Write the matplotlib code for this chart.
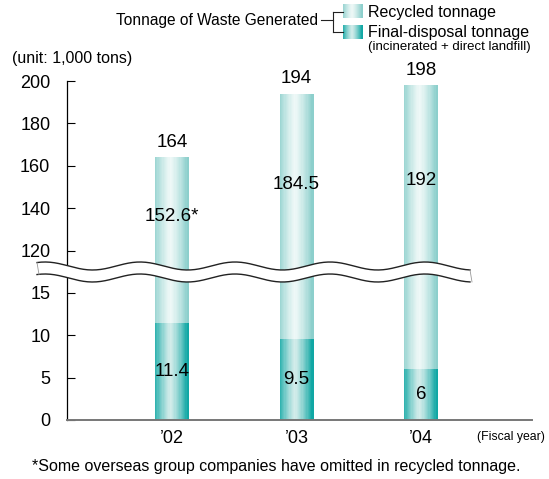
import numpy as np
import matplotlib
matplotlib.use("Agg")
import matplotlib.pyplot as plt
from matplotlib.patches import Polygon
from matplotlib.lines import Line2D
from matplotlib.colors import to_rgb

plt.rcParams['font.family'] = ['Liberation Sans', 'DejaVu Sans']

# --- data ---
years = ["\u201902", "\u201903", "\u201904"]
totals = [164, 194, 198]
recycled = [152.6, 184.5, 192]
final_disposal = [11.4, 9.5, 6]
recycled_labels = ["152.6*", "184.5", "192"]
final_labels = ["11.4", "9.5", "6"]
y_ticks = [0, 5, 10, 15, 120, 140, 160, 180, 200]

W, H = 549, 479
REC_EDGE, REC_MID = '#8ccfcc', '#eef8f7'
FIN_EDGE, FIN_MID = '#10a7a4', '#d2ecea'


# broken axis: 0-17 on the bottom, 118-200 on top
def fwd(v):
    v = np.asarray(v, dtype=float)
    return np.where(v <= 17, v / 5,
                    np.where(v >= 118, 4 + (v - 120) / 20, 3.4 + (v - 17) * 0.5 / 101))


def inv(p):
    p = np.asarray(p, dtype=float)
    return np.where(p <= 3.4, p * 5,
                    np.where(p >= 3.9, 120 + (p - 4) * 20, 17 + (p - 3.4) * 101 / 0.5))


def px(x, y):
    return x / W, 1 - y / H


def shade(edge, mid, t):
    e, m = np.array(to_rgb(edge)), np.array(to_rgb(mid))
    return tuple(m + (e - m) * t)


def gradient_bar(ax, x, height, bottom, width, edge, mid, n=28):
    step = width / n
    for i in range(n):
        off = (i + 0.5) / n - 0.5
        t = min(1.0, abs(off + 0.05) / 0.5) ** 1.3
        ax.bar(x - width / 2 + i * step, height, width=step * 1.08, bottom=bottom,
               align='edge', color=shade(edge, mid, t), linewidth=0, zorder=2)


fig = plt.figure(figsize=(W / 100, H / 100), dpi=100)
ax = fig.add_axes([67 / W, 1 - 420 / H, (532 - 67) / W, (420 - 81) / H])
ax.set_yscale('function', functions=(fwd, inv))

xs = np.arange(len(years))
bw = 0.273
for i in xs:
    gradient_bar(ax, i, final_disposal[i], 0, bw, FIN_EDGE, FIN_MID)
    gradient_bar(ax, i, recycled[i], final_disposal[i], bw, REC_EDGE, REC_MID)
    ax.text(i, totals[i] + 3, str(totals[i]), ha='center', va='bottom', fontsize=13.5)
    ax.text(i, (108 + totals[i]) / 2, recycled_labels[i], ha='center', va='center', fontsize=13.5)
    ax.text(i, final_disposal[i] / 2, final_labels[i], ha='center', va='center', fontsize=13.5)

ax.set_xlim(-0.843, 2.89)
ax.set_ylim(0, 200)
ax.set_yticks(y_ticks)
ax.set_yticklabels([str(t) for t in y_ticks], fontsize=13)
ax.yaxis.set_minor_locator(matplotlib.ticker.NullLocator())
ax.set_xticks(xs)
ax.set_xticklabels(years, fontsize=13)
ax.tick_params(axis='y', direction='in', length=6, width=0.8, pad=12)
ax.tick_params(axis='x', length=0, pad=7)
for s in ['top', 'right']:
    ax.spines[s].set_visible(False)
ax.spines['left'].set_linewidth(0.9)
ax.spines['bottom'].set_color('#777777')
ax.spines['bottom'].set_linewidth(1.4)

# wavy break across the chart
wx = np.linspace(37, 470, 300)
up = 266 - 4 * np.cos(2 * np.pi * (wx - 140) / 95)
lo = up + 12
poly = [px(x, y) for x, y in zip(wx, up)] + [px(x, y) for x, y in zip(wx[::-1], lo[::-1])]
fig.add_artist(Polygon(poly, closed=True, facecolor='white', edgecolor='none',
                       transform=fig.transFigure, zorder=5))
for curve in (up, lo):
    pts = [px(x, y) for x, y in zip(wx, curve)]
    fig.add_artist(Line2D([p[0] for p in pts], [p[1] for p in pts], color='#222222',
                          linewidth=1.0, transform=fig.transFigure, zorder=6))
for i in (0, -1):
    p1, p2 = px(wx[i], up[i]), px(wx[i] + 2, lo[i])
    fig.add_artist(Line2D([p1[0], p2[0]], [p1[1], p2[1]], color='#999999',
                          linewidth=0.6, transform=fig.transFigure, zorder=6))

# legend
fig.text(*px(318, 20), "Tonnage of Waste Generated", ha='right', va='center', fontsize=11.2)
lines = [[(321, 20), (333, 20)], [(333, 12), (333, 32)], [(333, 12), (343, 12)],
         [(333, 32), (343, 32)]]
for seg in lines:
    a, b = px(*seg[0]), px(*seg[1])
    fig.add_artist(Line2D([a[0], b[0]], [a[1], b[1]], color='#222222', linewidth=0.8,
                          transform=fig.transFigure))
for (y0, edge, mid) in [(4, REC_EDGE, REC_MID), (25, FIN_EDGE, FIN_MID)]:
    lax = fig.add_axes([343 / W, 1 - (y0 + 14) / H, 20 / W, 14 / H])
    grad = np.array([shade(edge, mid, min(1, abs(o + 0.05) / 0.5) ** 1.3)
                     for o in np.linspace(-0.5, 0.5, 40)])
    lax.imshow(grad[np.newaxis, :, :], aspect='auto')
    lax.axis('off')
fig.text(*px(368, 12), "Recycled tonnage", ha='left', va='center', fontsize=11.5)
fig.text(*px(368, 32), "Final-disposal tonnage", ha='left', va='center', fontsize=11.5)
fig.text(*px(368, 47), "(incinerated + direct landfill)", ha='left', va='center', fontsize=9.5)

fig.text(*px(12, 58), "(unit: 1,000 tons)", ha='left', va='center', fontsize=11.5)
fig.text(*px(545, 437), "(Fiscal year)", ha='right', va='center', fontsize=8.8)
fig.text(*px(276, 466), "*Some overseas group companies have omitted in recycled tonnage.",
         ha='center', va='center', fontsize=11.5)

fig.savefig("out.png", dpi=100)
